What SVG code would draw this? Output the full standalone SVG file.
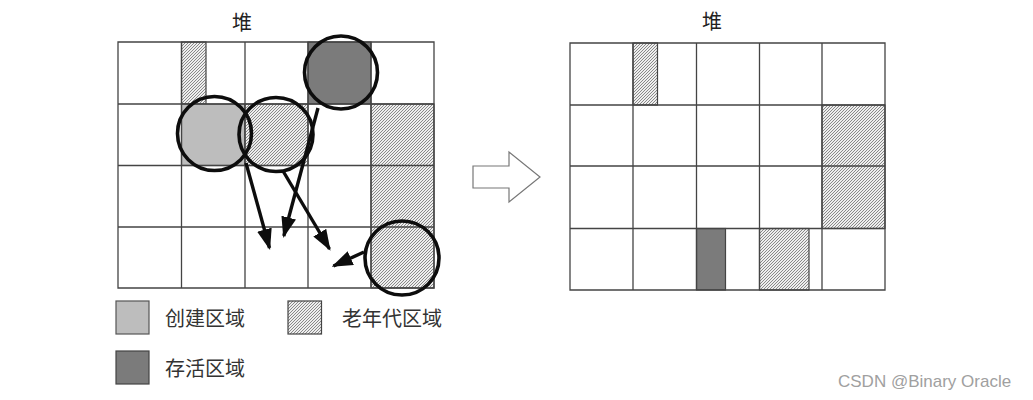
<svg xmlns="http://www.w3.org/2000/svg" width="1033" height="400" viewBox="0 0 1033 400">
  <style>
    .grid { fill: none; stroke: #444; stroke-width: 1.3; }
    .hatch { fill: url(#hatch); stroke: #444; stroke-width: 1.2; }
    .light { fill: #bdbdbd; stroke: #555; stroke-width: 1.2; }
    .dark { fill: #7b7b7b; stroke: #444; stroke-width: 1.2; }
    .ring { fill: none; stroke: #0d0d0d; stroke-width: 3.6; }
    .conn { fill: none; stroke: #0d0d0d; stroke-width: 3.4; marker-end: url(#ah); }
    .title { font-family: "Noto Sans CJK SC", sans-serif; font-size: 20px; fill: #222; text-anchor: middle; }
    .label { font-family: "Noto Sans CJK SC", sans-serif; font-size: 20px; fill: #333; }
    .wm { font-family: "Liberation Sans", Arial, sans-serif; font-size: 17px; fill: #a0a0a0; }
  </style>
  <defs>
    <pattern id="hatch" patternUnits="userSpaceOnUse" width="3" height="3">
      <rect width="3" height="3" fill="#eeeeee"/>
      <path d="M-0.75,0.75 l1.5,-1.5 M0,3 l3,-3 M2.25,3.75 l1.5,-1.5" stroke="#6e6e6e" stroke-width="0.8"/>
    </pattern>
    <marker id="ah" viewBox="0 0 21 15" refX="19" refY="7.5" markerWidth="21" markerHeight="15" markerUnits="userSpaceOnUse" orient="auto">
      <path d="M0,0 L21,7.5 L0,15 z" fill="#0d0d0d"/>
    </marker>
  </defs>
  <rect width="1033" height="400" fill="#ffffff"/>

  <g id="left-heap">
    <text class="title" x="242" y="30">堆</text>
    <rect class="hatch" x="181.5" y="42" width="24.5" height="62"/>
    <rect class="dark" x="308" y="42" width="63" height="62"/>
    <rect class="light" x="181.5" y="104" width="63.5" height="61.5"/>
    <rect class="hatch" x="245" y="104" width="63" height="61.5"/>
    <rect class="hatch" x="371" y="104" width="63" height="184"/>
    <path class="grid" d="M118,42 H434 V288 H118 Z M118,104 H434 M118,165.5 H434 M118,227 H434 M181.5,42 V288 M245,42 V288 M308,42 V288 M371,42 V288"/>
    <circle class="ring" cx="341" cy="72.5" r="36.5"/>
    <circle class="ring" cx="214.5" cy="133.5" r="37"/>
    <circle class="ring" cx="276" cy="134.5" r="37"/>
    <circle class="ring" cx="402" cy="258" r="37"/>
  </g>

  <g id="connectors">
    <line class="conn" x1="246" y1="163" x2="269.5" y2="248"/>
    <line class="conn" x1="318" y1="108" x2="283.8" y2="236"/>
    <line class="conn" x1="283" y1="171" x2="329.5" y2="249"/>
    <line class="conn" x1="364" y1="252" x2="333.5" y2="266"/>
  </g>

  <g id="transform-arrow">
    <polygon points="473,166 509,166 509,152 540,177 509,202 509,188 473,188" fill="#fff" stroke="#777" stroke-width="1.2"/>
  </g>

  <g id="right-heap">
    <text class="title" x="712" y="29">堆</text>
    <rect class="hatch" x="633" y="43" width="24.5" height="62"/>
    <rect class="hatch" x="822" y="105" width="63" height="123.5"/>
    <rect class="dark" x="696.5" y="228.5" width="29" height="61.5"/>
    <rect class="hatch" x="759.5" y="228.5" width="49.5" height="61.5"/>
    <path class="grid" d="M570,43 H885 V290 H570 Z M570,105 H885 M570,166 H885 M570,228.5 H885 M633,43 V290 M696.5,43 V290 M759.5,43 V290 M822,43 V290"/>
  </g>

  <g id="legend">
    <g id="legend-create">
      <rect class="light" x="116" y="301" width="33" height="33"/>
      <text class="label" x="165" y="325.5">创建区域</text>
    </g>
    <g id="legend-old">
      <rect class="hatch" x="288" y="301" width="33.5" height="33"/>
      <text class="label" x="342" y="325.5">老年代区域</text>
    </g>
    <g id="legend-survive">
      <rect class="dark" x="116" y="351" width="33" height="33"/>
      <text class="label" x="165" y="375.5">存活区域</text>
    </g>
  </g>

  <text class="wm" x="838" y="386.5">CSDN @Binary Oracle</text>
</svg>
